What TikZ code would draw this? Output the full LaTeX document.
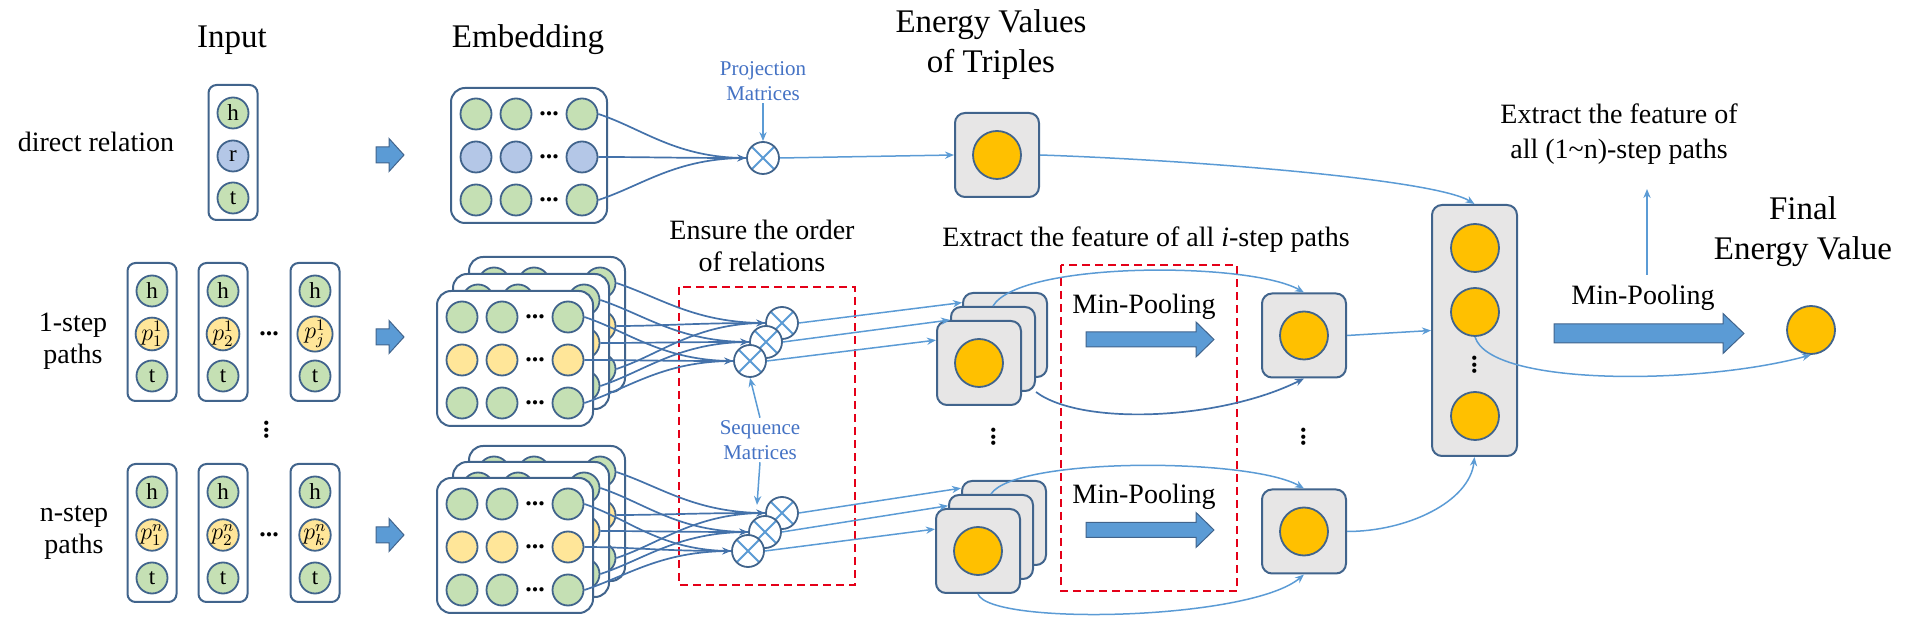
\documentclass[tikz,border=0pt]{standalone}
\usepackage{fontspec}
\setmainfont{Liberation Serif}
\usetikzlibrary{arrows.meta,calc}
\definecolor{gfill}{RGB}{197,224,180}
\definecolor{bfill}{RGB}{180,199,231}
\definecolor{yfill}{RGB}{255,230,153}
\definecolor{ofill}{RGB}{255,192,0}
\definecolor{grayfill}{RGB}{231,230,230}
\definecolor{outl}{RGB}{65,100,140}
\definecolor{lnk}{RGB}{91,155,213}
\definecolor{lnkd}{RGB}{68,114,170}
\definecolor{redd}{RGB}{228,0,24}
\definecolor{lbl}{RGB}{68,114,196}
\definecolor{arrfill}{RGB}{91,155,213}
\tikzset{
  title/.style={font=\fontsize{16.5}{20}\selectfont, align=center, inner sep=0pt},
  lab/.style={font=\fontsize{14}{16}\selectfont, align=center, inner sep=0pt},
  blbl/.style={font=\fontsize{10.5}{12.8}\selectfont, text=lbl, align=center, inner sep=1pt},
  inbox/.style={rectangle, rounded corners=4pt, draw=outl, line width=1pt, fill=white, minimum width=24.5pt, minimum height=69pt, inner sep=0pt},
  icir/.style={circle, draw=outl, line width=0.9pt, minimum size=15.5pt, inner sep=0pt, font=\fontsize{11.5}{12}\selectfont},
  embbox/.style={rectangle, rounded corners=7pt, draw=outl, line width=1pt, fill=white, minimum width=78pt, minimum height=67.5pt, inner sep=0pt},
  ecir/.style={circle, draw=outl, line width=0.9pt, minimum size=15.5pt, inner sep=0pt},
  dotsn/.style={font=\bfseries\fontsize{13}{13}\selectfont, inner sep=0pt},
  gbox/.style={rectangle, rounded corners=5pt, draw=outl, fill=grayfill, line width=1pt, minimum width=42pt, minimum height=42pt, inner sep=0pt},
  colbox/.style={rectangle, rounded corners=5pt, draw=outl, fill=grayfill, line width=1pt, minimum width=42.5pt, minimum height=125.5pt, inner sep=0pt},
  ocir/.style={circle, draw=outl, fill=ofill, line width=0.9pt, minimum size=24pt, inner sep=0pt},
  otim/.style={circle, draw=outl, fill=white, line width=0.9pt, minimum size=16pt, inner sep=0pt,
    path picture={\draw[lnk, line width=0.9pt] (path picture bounding box.north west) -- (path picture bounding box.south east) (path picture bounding box.north east) -- (path picture bounding box.south west);}},
  arr/.style={draw=lnk, line width=0.75pt, -{Stealth[length=4.5pt,width=3.6pt]}},
  arrd/.style={draw=lnkd, line width=0.85pt, -{Stealth[length=4.5pt,width=3.6pt]}},
  curvd/.style={draw=lnkd, line width=0.85pt},
  barrow/.style={fill=arrfill, draw=outl, line width=0.5pt},
  redbox/.style={draw=redd, line width=1pt, dash pattern=on 4pt off 2.5pt},
}
\newcommand\EmbBox[4]{%
  \node[embbox] (#1) at ({#2+78},{#3+67.5}) {};
  \foreach \rr/\dy/\fc in {1/26/gfill,2/69/#4,3/112/gfill}{%
    \foreach \cc/\dx in {1/25,2/65,3/131}{%
      \node[ecir,fill=\fc] (#1-\rr-\cc) at ({#2+\dx},{#3+\dy}) {};
    }%
    \node[dotsn] at ({#2+98},{#3+\dy}) {...};
  }%
}
\newcommand\Conv[2]{%
  \draw[curvd] (#1-1-3.east) .. controls +(45,15) and +(-70,0) .. (#2.west);
  \draw[curvd] (#1-3-3.east) .. controls +(45,-15) and +(-70,0) .. (#2.west);
  \draw[arrd] (#1-2-3.east) .. controls +(45,0) and +(-70,0) .. (#2.west);
}
\newcommand\BlockArrow[6]{%
  \draw[barrow] (#1,#3-#4) -- (#6,#3-#4) -- (#6,#3-#5) -- (#2,#3) -- (#6,#3+#5) -- (#6,#3+#4) -- (#1,#3+#4) -- cycle;
}
\begin{document}
\begin{tikzpicture}[x=0.5pt,y=-0.5pt]
\useasboundingbox (0,0) rectangle (1906,624);

% ---------- titles and labels ----------
\node[title] (tin) at (232,40) {Input};
\node[title] (temb) at (528,40) {Embedding};
\node[title] (tene) at (991,45) {Energy Values\\of Triples};
\node[lab] (tdir) at (96,142) {direct relation};
\node[lab] (t1s) at (73,341) {1-step\\paths};
\node[lab] (tns) at (74,533) {n-step\\paths};
\node[lab] (tens) at (762,246) {Ensure the order\\of relations};
\node[lab] (text1) at (1146,240) {Extract the feature of all \textit{i}-step paths};
\node[lab, font=\fontsize{14}{17.5}\selectfont] (text2) at (1619,134) {Extract the feature of\\all (1\textasciitilde n)-step paths};
\node[title] (tfin) at (1803,232) {Final\\Energy Value};
\node[lab] (mp1) at (1144,307) {Min-Pooling};
\node[lab] (mp2) at (1144,497) {Min-Pooling};
\node[lab] (mp3) at (1643,298) {Min-Pooling};
\node[blbl] (proj) at (763,81) {Projection\\Matrices};
\node[blbl] (seq) at (760,440) {Sequence\\Matrices};

% ---------- input ----------
\node[inbox, minimum height=67.5pt] (I0) at (233,152.5) {};
\node[icir,fill=gfill] (I0-h) at (233,113) {h};
\node[icir,fill=bfill] (I0-r) at (233,156) {r};
\node[icir,fill=gfill] (I0-t) at (233,198) {t};

\foreach \bx/\k/\sub in {152/1/1, 223/2/2, 315/3/j}{%
  \node[inbox] (A\k) at (\bx,332) {};
  \node[icir,fill=gfill] (A\k-h) at (\bx,291) {h};
  \node[icir,fill=yfill] (A\k-p) at (\bx,334) {$p_{\sub}^{1}$};
  \node[icir,fill=gfill] (A\k-t) at (\bx,376) {t};
}
\foreach \bx/\k/\sub in {152/1/1, 223/2/2, 315/3/k}{%
  \node[inbox] (B\k) at (\bx,533) {};
  \node[icir,fill=gfill] (B\k-h) at (\bx,492) {h};
  \node[icir,fill=yfill] (B\k-p) at (\bx,535) {$p_{\sub}^{n}$};
  \node[icir,fill=gfill] (B\k-t) at (\bx,578) {t};
}
\node[dotsn] (d1) at (269,334) {...};
\node[dotsn] (d2) at (269,535) {...};
\node[dotsn, rotate=90] (vd1) at (267,430) {...};

\BlockArrow{376}{404}{155}{8}{16.5}{389}
\BlockArrow{376}{404}{337}{8}{16.5}{389}
\BlockArrow{376}{404}{535}{8}{16.5}{389}

% ---------- embeddings ----------
\EmbBox{D}{451}{88}{bfill}
\EmbBox{S1a}{469}{257}{yfill}
\EmbBox{S1b}{453}{274}{yfill}
\EmbBox{S1c}{437}{291}{yfill}
\EmbBox{S2a}{469}{446}{yfill}
\EmbBox{S2b}{453}{462}{yfill}
\EmbBox{S2c}{437}{478}{yfill}

% ---------- red dashed boxes ----------
\draw[redbox] (679,287) rectangle (855,585);
\draw[redbox] (1061,265) rectangle (1237,591);

% ---------- otimes ----------
\node[otim] (P) at (763,158) {};
\node[otim] (O1a) at (782,323) {};
\node[otim] (O1b) at (766,342) {};
\node[otim] (O1c) at (750,361) {};
\node[otim] (O2a) at (782,513) {};
\node[otim] (O2b) at (765,532) {};
\node[otim] (O2c) at (748,551) {};

\Conv{D}{P}
\Conv{S1a}{O1a}
\Conv{S1b}{O1b}
\Conv{S1c}{O1c}
\Conv{S2a}{O2a}
\Conv{S2b}{O2b}
\Conv{S2c}{O2c}

\draw[arr] (proj.south) -- (P.north);
\draw[arr] (seq.north) -- (O1c.south);
\coordinate (seqT) at (757,505);
\draw[arr] (seq.south) -- (seqT);

% ---------- energy of triples ----------
\node[gbox] (E) at (997,155) {};
\node[ocir] (Ec) at (997,155) {};
\draw[arr] (P.east) -- (E.west);

% ---------- path feature stacks ----------
\node[gbox] (T1a) at (1005,335) {};
\node[gbox] (T1b) at (993,349) {};
\node[gbox] (T1c) at (979,363) {};
\node[ocir] (T1o) at (979,363) {};
\node[gbox] (T2a) at (1004,523) {};
\node[gbox] (T2b) at (991,537) {};
\node[gbox] (T2c) at (978,551) {};
\node[ocir] (T2o) at (978,551) {};
\node[dotsn, rotate=90] (vd2) at (994,437) {...};

\draw[arr] (O1a.east) -- (T1a.143);
\draw[arr] (O1b.east) -- (T1b.146);
\draw[arr] (O1c.east) -- (T1c.152);
\draw[arr] (O2a.east) -- (T2a.141);
\draw[arr] (O2b.east) -- (T2b.144);
\draw[arr] (O2c.east) -- (T2c.153);

\BlockArrow{1086}{1214}{339.5}{7.5}{17.5}{1196}
\BlockArrow{1086}{1214}{530}{7.5}{17.5}{1196}

% ---------- pooled ----------
\node[gbox] (R1) at (1304,335.5) {};
\node[ocir] (R1o) at (1304,335.5) {};
\node[gbox] (R2) at (1304,531.5) {};
\node[ocir] (R2o) at (1304,531.5) {};
\node[dotsn, rotate=90] (vd3) at (1304,437) {...};

\draw[arr] (T1b.north) .. controls +(27,-45) and +(-54,-31) .. (R1.north);
\draw[arrd] (T1b.south east) .. controls +(45,34) and +(-84,42) .. (R1.south);
\draw[arr] (T2b.north) .. controls +(24,-37) and +(-54,-31) .. (R2.north);
\draw[arr] (T2c.south) .. controls +(12,32) and +(-54,46) .. (R2.south);

% ---------- column ----------
\node[colbox] (C) at (1474.5,330.5) {};
\node[ocir] (C1) at (1475,248) {};
\node[ocir] (C2) at (1475,312) {};
\node[ocir] (C3) at (1475,416) {};
\node[dotsn, rotate=90] (vd4) at (1475,365) {...};

\draw[arr] (E.east) .. controls +(150,5) and +(-40,-25) .. (C.north);
\draw[arr] (R1.east) -- (C.west);
\draw[arr] (R2.east) .. controls +(60,0) and +(-5,45) .. (C.south);

\BlockArrow{1554}{1744}{333.5}{9.5}{20}{1723}
\node[ocir] (F) at (1811,330) {};
\draw[arr] (C2.south) .. controls +(15,50) and +(-110,30) .. (F.south);

\coordinate (upS) at (1647,275);
\coordinate (upT) at (1647,189);
\draw[arr] (upS) -- (upT);
\end{tikzpicture}
\end{document}
